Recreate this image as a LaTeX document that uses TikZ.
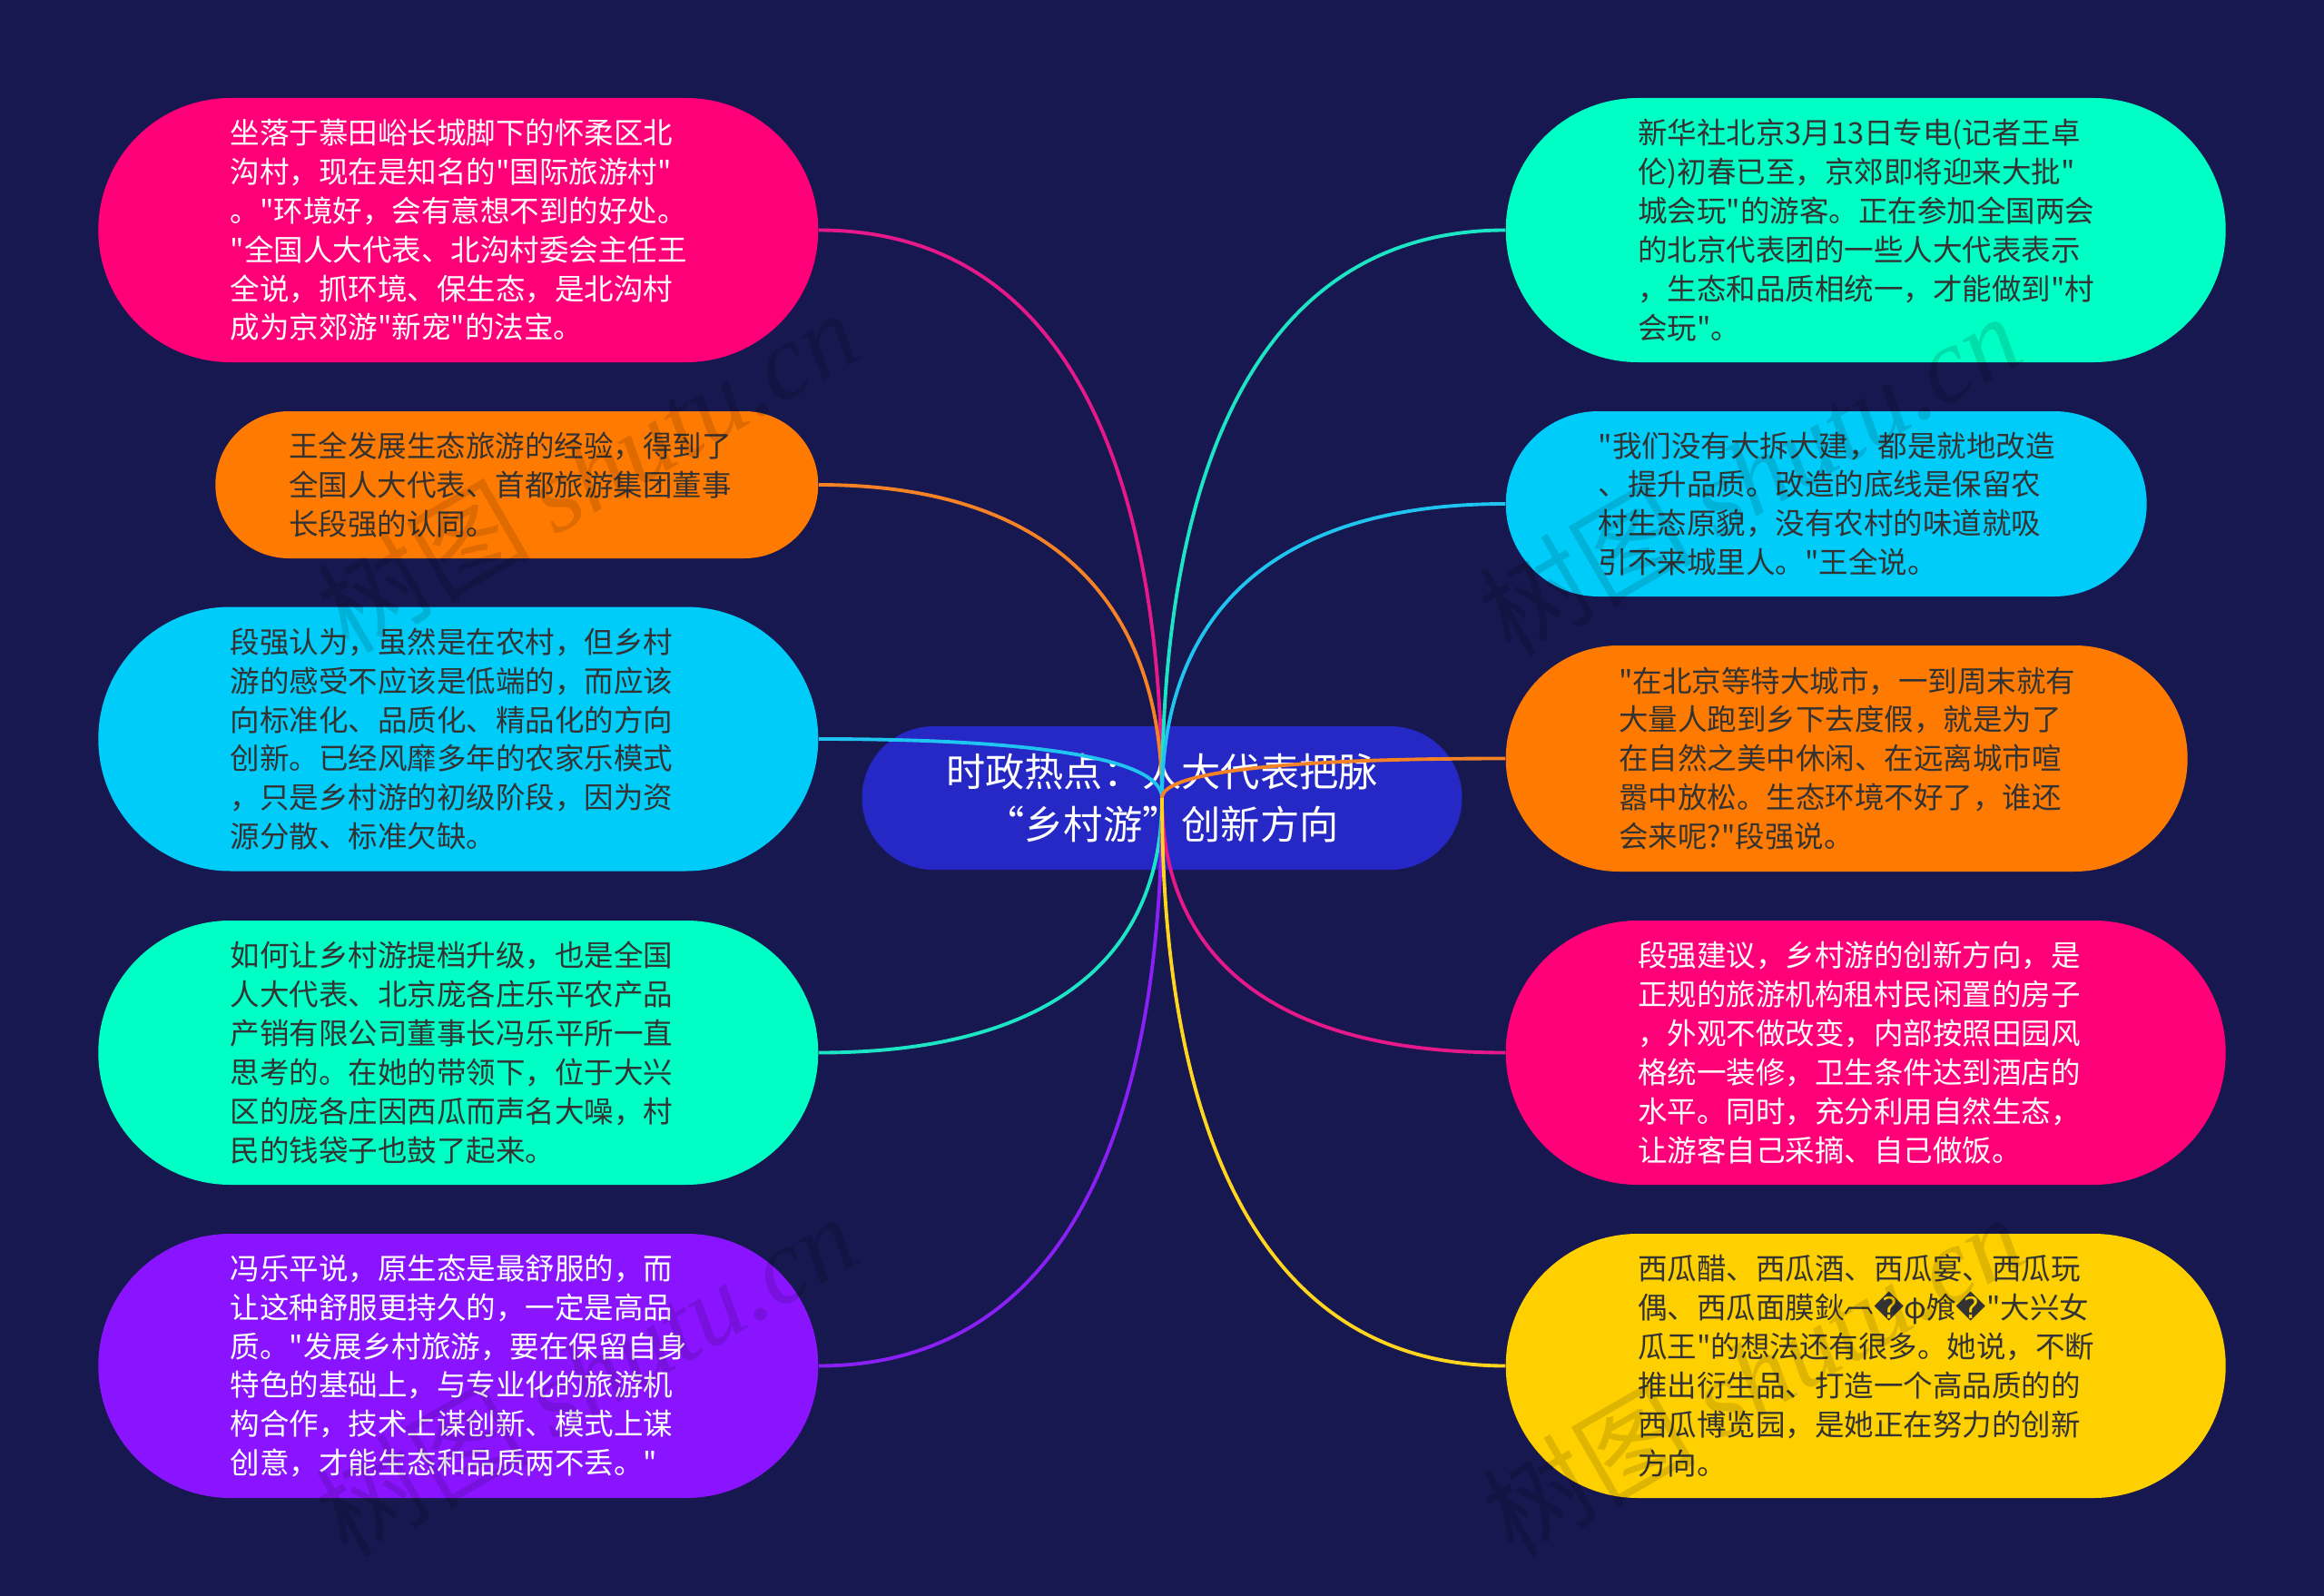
\documentclass[tikz,border=0pt]{standalone}
\usepackage{fontspec}
\usepackage{xcolor}
\usepackage{tikz}
\usetikzlibrary{calc}
\newfontfamily\cjkfont{Noto Sans CJK SC}
\newfontfamily\fffdfont{DejaVu Sans}
\newfontfamily\markfont{Liberation Serif}
\newcommand{\badchar}{{\fffdfont ^^^^fffd}}
\definecolor{navy}{HTML}{17184F}
\definecolor{hubblue}{HTML}{2528C4}
\definecolor{rose}{HTML}{FF0079}
\definecolor{amber}{HTML}{FF7A00}
\definecolor{sky}{HTML}{00CCF9}
\definecolor{mint}{HTML}{00FFC4}
\definecolor{grape}{HTML}{8A14FF}
\definecolor{gold}{HTML}{FFD000}
\definecolor{inkdark}{HTML}{333333}
\definecolor{linerose}{HTML}{E6188A}
\definecolor{lineamber}{HTML}{F58225}
\definecolor{linesky}{HTML}{20C4F0}
\definecolor{linemint}{HTML}{1CE5C5}
\definecolor{linegrape}{HTML}{8A20F5}
\definecolor{linegold}{HTML}{FFD51E}

\begin{document}
\begin{tikzpicture}[
        topic/.style 2 args={rectangle, fill=#1, minimum height=#2cm, minimum width=#2cm+5.02cm,
          rounded corners=#2*0.5cm, text width=5.02cm, align=left, inner sep=0pt,
          font=\fontsize{9.25}{12.2}\selectfont\cjkfont},
        central/.style={rectangle, fill=hubblue, minimum width=6.61cm, minimum height=1.58cm,
          rounded corners=0.79cm, align=center, inner sep=0pt, text=white,
          font=\fontsize{12.3}{16.6}\selectfont\cjkfont},
        branch/.style={line width=1.1pt},
        stamp/.style={rotate=30, text=black, text opacity=0.13, inner sep=0pt,
          font=\fontsize{33.5}{33.5}\selectfont\cjkfont}
      ]
        
        \useasboundingbox (0,0) rectangle (25.6,-17.58);
        \fill[navy] (0,0) rectangle (25.6,-17.58);
        
        \node[central] (hub) at (12.8,-8.79) {时政热点：人大代表把脉\\“乡村游”创新方向};
        
        \node[topic={rose}{2.91}, anchor=east, text=white] (l1) at (9.02,-2.535) {坐落于慕田峪长城脚下的怀柔区北\\沟村，现在是知名的"国际旅游村"\\。"环境好，会有意想不到的好处。\\"全国人大代表、北沟村委会主任王\\全说，抓环境、保生态，是北沟村\\成为京郊游"新宠"的法宝。};
        \node[topic={amber}{1.62}, anchor=east, text=inkdark] (l2) at (9.02,-5.34) {王全发展生态旅游的经验，得到了\\全国人大代表、首都旅游集团董事\\长段强的认同。};
        \node[topic={sky}{2.91}, anchor=east, text=inkdark] (l3) at (9.02,-8.14) {段强认为，虽然是在农村，但乡村\\游的感受不应该是低端的，而应该\\向标准化、品质化、精品化的方向\\创新。已经风靡多年的农家乐模式\\，只是乡村游的初级阶段，因为资\\源分散、标准欠缺。};
        \node[topic={mint}{2.91}, anchor=east, text=inkdark] (l4) at (9.02,-11.595) {如何让乡村游提档升级，也是全国\\人大代表、北京庞各庄乐平农产品\\产销有限公司董事长冯乐平所一直\\思考的。在她的带领下，位于大兴\\区的庞各庄因西瓜而声名大噪，村\\民的钱袋子也鼓了起来。};
        \node[topic={grape}{2.91}, anchor=east, text=white] (l5) at (9.02,-15.045) {冯乐平说，原生态是最舒服的，而\\让这种舒服更持久的，一定是高品\\质。"发展乡村旅游，要在保留自身\\特色的基础上，与专业化的旅游机\\构合作，技术上谋创新、模式上谋\\创意，才能生态和品质两不丢。"};
        
        \node[topic={mint}{2.91}, anchor=west, text=inkdark] (r1) at (16.58,-2.535) {新华社北京3月13日专电(记者王卓\\伦)初春已至，京郊即将迎来大批"\\城会玩"的游客。正在参加全国两会\\的北京代表团的一些人大代表表示\\，生态和品质相统一，才能做到"村\\会玩"。};
        \node[topic={sky}{2.04}, anchor=west, text=inkdark] (r2) at (16.58,-5.55) {"我们没有大拆大建，都是就地改造\\、提升品质。改造的底线是保留农\\村生态原貌，没有农村的味道就吸\\引不来城里人。"王全说。};
        \node[topic={amber}{2.49}, anchor=west, text=inkdark] (r3) at (16.58,-8.355) {"在北京等特大城市，一到周末就有\\大量人跑到乡下去度假，就是为了\\在自然之美中休闲、在远离城市喧\\嚣中放松。生态环境不好了，谁还\\会来呢?"段强说。};
        \node[topic={rose}{2.91}, anchor=west, text=white] (r4) at (16.58,-11.595) {段强建议，乡村游的创新方向，是\\正规的旅游机构租村民闲置的房子\\，外观不做改变，内部按照田园风\\格统一装修，卫生条件达到酒店的\\水平。同时，充分利用自然生态，\\让游客自己采摘、自己做饭。};
        \node[topic={gold}{2.91}, anchor=west, text=inkdark] (r5) at (16.58,-15.045) {西瓜醋、西瓜酒、西瓜宴、西瓜玩\\偶、西瓜面膜鈥\raisebox{0.22em}{︹}\badchar φ飧\badchar "大兴女\\瓜王"的想法还有很多。她说，不断\\推出衍生品、打造一个高品质的的\\西瓜博览园，是她正在努力的创新\\方向。};
        
        \draw[branch, linerose] (hub.center) .. controls ($(hub.center)!0.6!(hub.center |- l1.east)$) and ($(hub.center |- l1.east)!0.3!(l1.east)$) .. (l1.east);
        \draw[branch, lineamber] (hub.center) .. controls ($(hub.center)!0.6!(hub.center |- l2.east)$) and ($(hub.center |- l2.east)!0.3!(l2.east)$) .. (l2.east);
        \draw[branch, linesky] (hub.center) .. controls ($(hub.center)!0.6!(hub.center |- l3.east)$) and ($(hub.center |- l3.east)!0.3!(l3.east)$) .. (l3.east);
        \draw[branch, linemint] (hub.center) .. controls ($(hub.center)!0.6!(hub.center |- l4.east)$) and ($(hub.center |- l4.east)!0.3!(l4.east)$) .. (l4.east);
        \draw[branch, linegrape] (hub.center) .. controls ($(hub.center)!0.6!(hub.center |- l5.east)$) and ($(hub.center |- l5.east)!0.3!(l5.east)$) .. (l5.east);
        \draw[branch, linemint] (hub.center) .. controls ($(hub.center)!0.6!(hub.center |- r1.west)$) and ($(hub.center |- r1.west)!0.3!(r1.west)$) .. (r1.west);
        \draw[branch, linesky] (hub.center) .. controls ($(hub.center)!0.6!(hub.center |- r2.west)$) and ($(hub.center |- r2.west)!0.3!(r2.west)$) .. (r2.west);
        \draw[branch, lineamber] (hub.center) .. controls ($(hub.center)!0.6!(hub.center |- r3.west)$) and ($(hub.center |- r3.west)!0.3!(r3.west)$) .. (r3.west);
        \draw[branch, linerose] (hub.center) .. controls ($(hub.center)!0.6!(hub.center |- r4.west)$) and ($(hub.center |- r4.west)!0.3!(r4.west)$) .. (r4.west);
        \draw[branch, linegold] (hub.center) .. controls ($(hub.center)!0.6!(hub.center |- r5.west)$) and ($(hub.center |- r5.west)!0.3!(r5.west)$) .. (r5.west);
        
        \node[stamp] (mark1) at (6.47,-5.18) {树图 {\markfont\itshape shutu.cn}};
        \node[stamp] (mark2) at (19.27,-5.22) {树图 {\markfont\itshape shutu.cn}};
        \node[stamp] (mark3) at (6.45,-15.14) {树图 {\markfont\itshape shutu.cn}};
        \node[stamp] (mark4) at (19.30,-15.14) {树图 {\markfont\itshape shutu.cn}};
        
      \end{tikzpicture}
\end{document}
